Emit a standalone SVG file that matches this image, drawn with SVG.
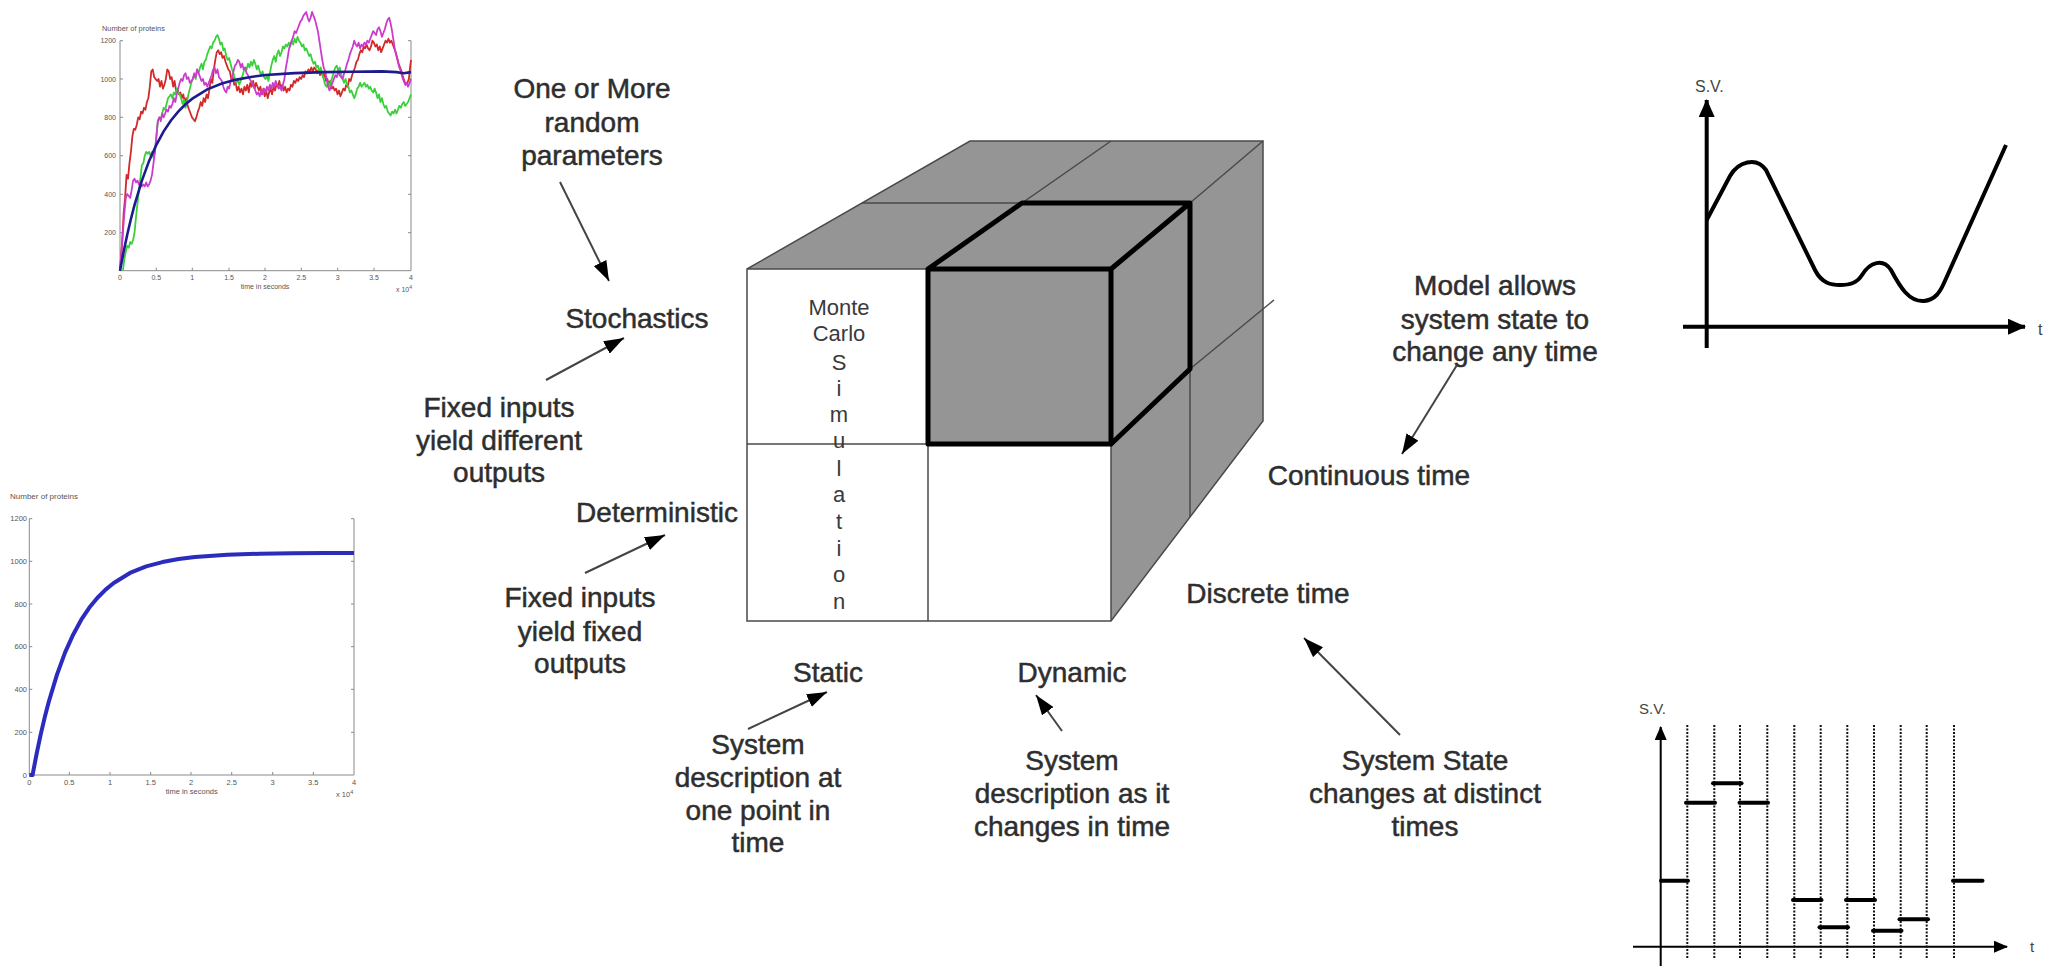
<svg xmlns="http://www.w3.org/2000/svg" width="2062" height="967" viewBox="0 0 2062 967">
  <defs>
    <style>
      .lbl { font-family: "Liberation Sans", Arial, sans-serif; font-size: 28px; fill: #2e2e2e; stroke: #2e2e2e; stroke-width: 0.5px; text-anchor: middle; }
      .mc { font-family: "Liberation Sans", Arial, sans-serif; font-size: 22px; fill: #3a3a3a; text-anchor: middle; }
      .ax { stroke: #8a8a8a; stroke-width: 1; fill: none; }
      .tk { font-family: "Liberation Sans", Arial, sans-serif; fill: #555; }
      .conn { stroke: #444; stroke-width: 2; fill: none; marker-end: url(#ah); }
      .thin { stroke: #4a4a4a; stroke-width: 1.5; fill: none; }
      .thick { stroke: #000; stroke-width: 5; fill: none; stroke-linejoin: round; stroke-linecap: round; }
      .sv { font-family: "Liberation Sans", Arial, sans-serif; fill: #444; }
      .noisy { fill: none; stroke-width: 1.8; stroke-linejoin: round; }
      .dots { stroke: #111; stroke-width: 2; stroke-dasharray: 2 1.5; }
      .step { stroke: #000; stroke-width: 4; stroke-linecap: round; }
    </style>
    <marker id="ah" markerWidth="20" markerHeight="14" refX="20" refY="7" orient="auto" markerUnits="userSpaceOnUse">
      <path d="M0,0 L20,7 L0,14 Z" fill="#000"/>
    </marker>
    <marker id="ahBig" markerWidth="18" markerHeight="16" refX="17" refY="8" orient="auto" markerUnits="userSpaceOnUse">
      <path d="M0,0 L18,8 L0,16 Z" fill="#000"/>
    </marker>
    <marker id="ahSmall" markerWidth="14" markerHeight="12" refX="13" refY="6" orient="auto" markerUnits="userSpaceOnUse">
      <path d="M0,0 L14,6 L0,12 Z" fill="#000"/>
    </marker>
  </defs>

  <rect width="2062" height="967" fill="#fff"/>

  <!-- Stochastic simulation runs -->
  <g id="plot-stochastic">
    <text class="tk" x="102" y="31" font-size="7.4">Number of proteins</text>
    <path class="ax" d="M120,40.7 V270.7 H411 V40.7"/>
    <path class="ax" d="M120,40.7 h3 M120,79 h3 M120,117.3 h3 M120,155.7 h3 M120,194.3 h3 M120,232.7 h3
                        M411,40.7 h-3 M411,79 h-3 M411,117.3 h-3 M411,155.7 h-3 M411,194.3 h-3 M411,232.7 h-3
                        M156.3,270.7 v-3 M192.3,270.7 v-3 M229,270.7 v-3 M265,270.7 v-3 M301.3,270.7 v-3 M337.7,270.7 v-3 M374,270.7 v-3"/>
    <g class="tk" font-size="7" text-anchor="end">
      <text x="116" y="43">1200</text>
      <text x="116" y="81.5">1000</text>
      <text x="116" y="119.8">800</text>
      <text x="116" y="158.2">600</text>
      <text x="116" y="196.8">400</text>
      <text x="116" y="235.2">200</text>
    </g>
    <g class="tk" font-size="7" text-anchor="middle">
      <text x="120" y="279.5">0</text>
      <text x="156.3" y="279.5">0.5</text>
      <text x="192.3" y="279.5">1</text>
      <text x="229" y="279.5">1.5</text>
      <text x="265" y="279.5">2</text>
      <text x="301.3" y="279.5">2.5</text>
      <text x="337.7" y="279.5">3</text>
      <text x="374" y="279.5">3.5</text>
      <text x="411" y="279.5">4</text>
      <text x="265" y="288.5">time in seconds</text>
    </g>
    <text class="tk" x="396" y="292" font-size="7">x 10<tspan dy="-3" font-size="5">4</tspan></text>

    <g transform="translate(120,270.7) scale(0.7275,-0.19167)">
      <polyline class="noisy" vector-effect="non-scaling-stroke" stroke="#d22a2a" points="0,0 3,150 5,300 7,380 9,500 11,480 13,560 15,620 17,700 19,740 21,735 23,760 25,800 27,790 29,830 31,820 33,850 35,840 37,880 39,900 41,960 43,1040 45,1050 47,1010 49,1000 51,990 53,1000 55,960 57,990 59,950 61,970 63,1000 65,1050 67,1040 69,1000 71,1010 73,960 75,990 77,940 79,950 81,920 83,930 85,900 87,920 89,880 91,900 93,860 95,840 97,820 99,800 101,790 103,780 105,800 107,830 109,850 111,880 113,860 115,900 117,880 119,920 121,900 123,950 125,1000 127,980 129,1050 131,1100 133,1140 135,1150 137,1130 139,1140 141,1110 143,1120 145,1090 147,1070 149,1050 151,1040 153,1000 155,1010 157,970 159,980 161,940 163,960 165,930 167,950 169,920 171,960 173,940 175,970 177,930 179,980 181,960 183,990 185,950 187,980 189,960 191,940 193,960 195,920 197,950 199,910 201,940 203,900 205,930 207,950 209,920 211,960 213,940 215,970 217,960 219,990 221,950 223,970 225,940 227,960 229,930 231,950 233,940 235,970 237,960 239,990 241,980 243,1000 245,990 247,1010 249,1000 251,1020 253,1010 255,1040 257,1030 259,1050 261,1040 263,1060 265,1040 267,1060 269,1050 271,1030 273,1050 275,1020 277,1040 279,1010 281,1030 283,990 285,1000 287,970 289,990 291,950 293,960 295,940 297,950 299,920 301,940 303,910 305,930 307,950 309,940 311,970 313,960 315,1000 317,990 319,1020 321,1040 323,1060 325,1090 327,1100 329,1130 331,1150 333,1140 335,1170 337,1160 339,1180 341,1160 343,1150 345,1170 347,1200 349,1190 351,1170 353,1180 355,1150 357,1170 359,1140 361,1160 363,1180 365,1200 367,1190 369,1210 371,1190 373,1200 375,1180 377,1160 379,1140 381,1110 383,1080 385,1060 387,1040 389,1010 391,990 393,970 395,980 397,1000 399,1070 400,1100"/>
      <polyline class="noisy" vector-effect="non-scaling-stroke" stroke="#3ccf3c" points="4,0 6,60 8,100 10,130 12,120 14,150 16,140 18,160 20,200 22,280 24,350 26,420 28,480 30,550 32,560 34,600 36,620 38,610 40,620 42,600 44,620 46,590 48,620 50,700 52,780 54,800 56,790 58,820 60,850 62,840 64,870 66,900 68,910 70,920 72,900 74,930 76,920 78,950 80,930 82,920 84,900 86,870 88,890 90,850 92,880 94,920 96,950 98,980 100,1000 102,1020 104,1000 106,1050 108,1030 110,1060 112,1080 114,1050 116,1090 118,1100 120,1130 122,1150 124,1170 126,1160 128,1190 130,1200 132,1220 134,1230 136,1210 138,1180 140,1190 142,1150 144,1160 146,1120 148,1100 150,1110 152,1080 154,1050 156,1030 158,1000 160,980 162,1000 164,970 166,990 168,1010 170,1040 172,1060 174,1050 176,1080 178,1060 180,1090 182,1070 184,1100 186,1080 188,1050 190,1070 192,1040 194,1020 196,1040 198,1010 200,1000 202,1020 204,990 206,1030 208,1070 210,1100 212,1120 214,1090 216,1130 218,1150 220,1120 222,1140 224,1170 226,1160 228,1180 230,1170 232,1190 234,1170 236,1200 238,1180 240,1210 242,1190 244,1220 246,1200 248,1190 250,1170 252,1180 254,1150 256,1160 258,1140 260,1120 262,1130 264,1100 266,1080 268,1090 270,1060 272,1070 274,1040 276,1060 278,1030 280,1000 282,970 284,960 286,980 288,960 290,990 292,1010 294,1040 296,1060 298,1070 300,1040 302,1060 304,1020 306,1000 308,980 310,1000 312,970 314,960 316,930 318,940 320,920 322,900 324,920 326,950 328,960 330,980 332,960 334,970 336,980 338,960 340,970 342,950 344,960 346,940 348,930 350,950 352,930 354,900 356,920 358,880 360,900 362,870 364,850 366,860 368,830 370,820 372,810 374,830 376,820 378,840 380,820 382,840 384,860 386,850 388,870 390,880 392,860 394,870 396,880 398,900 400,920"/>
      <polyline class="noisy" vector-effect="non-scaling-stroke" stroke="#cc3ccc" points="0,0 2,100 4,200 6,300 8,380 10,400 12,390 14,380 16,420 18,470 20,480 22,460 24,470 26,450 28,460 30,440 32,450 34,440 36,460 38,440 40,450 42,470 44,500 46,560 48,620 50,700 52,780 54,800 56,780 58,820 60,800 62,820 64,840 66,830 68,860 70,850 72,870 74,900 76,880 78,920 80,950 82,980 84,1000 86,990 88,1020 90,1030 92,1000 94,1010 96,980 98,990 100,1000 102,1030 104,1010 106,1050 108,1030 110,1010 112,990 114,1000 116,970 118,980 120,960 122,980 124,1000 126,1020 128,1050 130,1060 132,1030 134,1050 136,1010 138,1000 140,990 142,960 144,940 146,930 148,960 150,950 152,990 154,1010 156,1040 158,1070 160,1080 162,1100 164,1090 166,1060 168,1080 170,1050 172,1060 174,1030 176,1020 178,1000 180,990 182,980 184,960 186,940 188,920 190,930 192,910 194,940 196,920 198,950 200,930 202,960 204,940 206,970 208,950 210,980 212,960 214,990 216,970 218,950 220,960 222,940 224,970 226,1000 228,1060 230,1100 232,1150 234,1180 236,1200 238,1220 240,1250 242,1240 244,1260 246,1280 248,1300 250,1310 252,1330 254,1340 256,1350 258,1320 260,1300 262,1320 264,1350 266,1330 268,1310 270,1280 272,1250 274,1200 276,1150 278,1100 280,1060 282,1040 284,1000 286,960 288,940 290,960 292,980 294,1000 296,1020 298,1010 300,1040 302,1020 304,1010 306,1000 308,1030 310,1050 312,1080 314,1100 316,1130 318,1150 320,1170 322,1200 324,1180 326,1170 328,1190 330,1160 332,1180 334,1170 336,1190 338,1180 340,1200 342,1190 344,1210 346,1230 348,1250 350,1240 352,1230 354,1260 356,1270 358,1250 360,1220 362,1240 364,1260 366,1290 368,1310 370,1320 372,1290 374,1250 376,1200 378,1150 380,1120 382,1090 384,1060 386,1040 388,1010 390,990 392,970 394,980 396,960 398,980 400,1000"/>
      <polyline fill="none" vector-effect="non-scaling-stroke" stroke="#1c1c8e" stroke-width="2.6" points="0,0 5,99 10,189 15,270 20,343 30,469 40,573 50,657 60,727 70,784 80,830 90,868 100,899 120,946 140,977 160,997 180,1011 200,1021 240,1031 280,1036 320,1038 360,1040 380,1036 390,1030 400,1036"/>
    </g>
  </g>

  <!-- Deterministic simulation run -->
  <g id="plot-deterministic">
    <text class="tk" x="10" y="499" font-size="8">Number of proteins</text>
    <path class="ax" d="M29.3,518.7 V775 H354 V518.7"/>
    <path class="ax" d="M29.3,518.7 h3 M29.3,561.3 h3 M29.3,604 h3 M29.3,646.7 h3 M29.3,689.3 h3 M29.3,732.3 h3
                        M354,518.7 h-3 M354,561.3 h-3 M354,604 h-3 M354,646.7 h-3 M354,689.3 h-3 M354,732.3 h-3
                        M69.3,775 v-3 M110,775 v-3 M150.7,775 v-3 M191,775 v-3 M231.7,775 v-3 M272.7,775 v-3 M313.3,775 v-3"/>
    <g class="tk" font-size="7.5" text-anchor="end">
      <text x="27" y="521.3">1200</text>
      <text x="27" y="564">1000</text>
      <text x="27" y="606.7">800</text>
      <text x="27" y="649.4">600</text>
      <text x="27" y="692">400</text>
      <text x="27" y="735">200</text>
      <text x="27" y="777.7">0</text>
    </g>
    <g class="tk" font-size="7.5" text-anchor="middle">
      <text x="29.3" y="785">0</text>
      <text x="69.3" y="785">0.5</text>
      <text x="110" y="785">1</text>
      <text x="150.7" y="785">1.5</text>
      <text x="191" y="785">2</text>
      <text x="231.7" y="785">2.5</text>
      <text x="272.7" y="785">3</text>
      <text x="313.3" y="785">3.5</text>
      <text x="354" y="785">4</text>
      <text x="191.7" y="794">time in seconds</text>
    </g>
    <text class="tk" x="336" y="797" font-size="7.5">x 10<tspan dy="-3" font-size="5.5">4</tspan></text>
    <g transform="translate(29.3,775) scale(0.81175,-0.21358)">
      <polyline fill="none" vector-effect="non-scaling-stroke" stroke="#2b2bbd" stroke-width="4" stroke-linejoin="round" points="0,0 4,0 9,99 14,189 19,270 24,343 34,469 44,573 54,657 64,727 74,784 84,830 94,868 104,899 124,946 144,977 164,997 184,1011 204,1021 244,1031 284,1036 324,1038 364,1039 400,1040"/>
    </g>
  </g>

  <!-- Classification cube -->
  <g id="cube">
    <polygon points="747,269 970,141 1263,141 1263,421 1111,621 747,621" fill="#959595"/>
    <rect x="747" y="269" width="181" height="175" fill="#fff"/>
    <rect x="747" y="444" width="181" height="177" fill="#fff"/>
    <rect x="928" y="444" width="183" height="177" fill="#fff"/>
    <polygon class="thin" points="747,269 970,141 1263,141 1263,421 1111,621 747,621"/>
    <path class="thin" d="M747,269 H1111 M928,269 V621 M747,444 H1111 M1111,444 V621
                          M862,203 H1022 L1111,141 M1190,203 L1263,141 M1190,369 L1274,300 M1190,369 V517"/>
    <path class="thick" d="M928,269 H1111 V444 H928 Z M928,269 L1022,203 H1190 L1111,269 M1190,203 V369 L1111,444"/>
    <g class="mc">
      <text x="839" y="314.5">Monte</text>
      <text x="839" y="341">Carlo</text>
      <text x="839" y="369.5">S</text>
      <text x="839" y="396">i</text>
      <text x="839" y="422">m</text>
      <text x="839" y="448">u</text>
      <text x="839" y="475.5">l</text>
      <text x="839" y="502">a</text>
      <text x="839" y="528.5">t</text>
      <text x="839" y="556">i</text>
      <text x="839" y="582">o</text>
      <text x="839" y="609">n</text>
    </g>
  </g>

  <!-- Labels around the cube -->
  <g id="lbl-random" class="lbl">
    <text x="592" y="98">One or More</text>
    <text x="592" y="131.5">random</text>
    <text x="592" y="165">parameters</text>
  </g>
  <g id="lbl-stochastics" class="lbl"><text x="637" y="328">Stochastics</text></g>
  <g id="lbl-fixed-diff" class="lbl">
    <text x="499" y="416.5">Fixed inputs</text>
    <text x="499" y="449.5">yield different</text>
    <text x="499" y="481.5">outputs</text>
  </g>
  <g id="lbl-deterministic" class="lbl"><text x="657" y="522">Deterministic</text></g>
  <g id="lbl-fixed-fixed" class="lbl">
    <text x="580" y="607">Fixed inputs</text>
    <text x="580" y="640.5">yield fixed</text>
    <text x="580" y="673">outputs</text>
  </g>
  <g id="lbl-static" class="lbl"><text x="828" y="682">Static</text></g>
  <g id="lbl-static-desc" class="lbl">
    <text x="758" y="754">System</text>
    <text x="758" y="787">description at</text>
    <text x="758" y="820">one point in</text>
    <text x="758" y="852">time</text>
  </g>
  <g id="lbl-dynamic" class="lbl"><text x="1072" y="682">Dynamic</text></g>
  <g id="lbl-dynamic-desc" class="lbl">
    <text x="1072" y="770">System</text>
    <text x="1072" y="803">description as it</text>
    <text x="1072" y="836">changes in time</text>
  </g>
  <g id="lbl-discrete" class="lbl"><text x="1268" y="603">Discrete time</text></g>
  <g id="lbl-discrete-desc" class="lbl">
    <text x="1425" y="770">System State</text>
    <text x="1425" y="803">changes at distinct</text>
    <text x="1425" y="836">times</text>
  </g>
  <g id="lbl-continuous" class="lbl"><text x="1369" y="485">Continuous time</text></g>
  <g id="lbl-continuous-desc" class="lbl">
    <text x="1495" y="295">Model allows</text>
    <text x="1495" y="328.5">system state to</text>
    <text x="1495" y="361">change any time</text>
  </g>

  <!-- Connectors -->
  <g id="connectors">
    <line class="conn" x1="560" y1="182" x2="609" y2="281"/>
    <line class="conn" x1="546" y1="380" x2="624" y2="338"/>
    <line class="conn" x1="585" y1="573" x2="665" y2="535"/>
    <line class="conn" x1="748" y1="729" x2="827" y2="692"/>
    <line class="conn" x1="1062" y1="731" x2="1036" y2="695"/>
    <line class="conn" x1="1400" y1="735" x2="1304" y2="638"/>
    <line class="conn" x1="1457" y1="365" x2="1402" y2="454"/>
  </g>

  <!-- Continuous state variable -->
  <g id="plot-continuous">
    <text class="sv" x="1695" y="92" font-size="16">S.V.</text>
    <line x1="1706.7" y1="348" x2="1706.7" y2="100" stroke="#000" stroke-width="4" marker-end="url(#ahBig)"/>
    <line x1="1683" y1="326.7" x2="2025" y2="326.7" stroke="#000" stroke-width="4" marker-end="url(#ahBig)"/>
    <text class="sv" x="2038" y="335" font-size="16" fill="#222">t</text>
    <path d="M1706.7,220 L1730,176 C1738,162 1756,156 1766,170 L1815,270 C1822,284 1832,285 1840,285 C1850,285 1857,283 1862,275 C1870,262 1883,258 1891,270 C1900,287 1909,302 1924,301 C1935,300 1940,292 1944,283 L2006,145" fill="none" stroke="#000" stroke-width="4" stroke-linejoin="round"/>
  </g>

  <!-- Discrete state variable -->
  <g id="plot-discrete">
    <text class="sv" x="1639" y="714" font-size="15">S.V.</text>
    <line x1="1660.7" y1="966" x2="1660.7" y2="727" stroke="#000" stroke-width="2" marker-end="url(#ahSmall)"/>
    <line x1="1633" y1="946.7" x2="2007" y2="946.7" stroke="#000" stroke-width="2" marker-end="url(#ahSmall)"/>
    <text class="sv" x="2030" y="952" font-size="15" fill="#222">t</text>
    <g class="dots">
      <line x1="1687.3" y1="725" x2="1687.3" y2="958"/>
      <line x1="1714.3" y1="725" x2="1714.3" y2="958"/>
      <line x1="1740" y1="725" x2="1740" y2="958"/>
      <line x1="1767.3" y1="725" x2="1767.3" y2="958"/>
      <line x1="1794.3" y1="725" x2="1794.3" y2="958"/>
      <line x1="1820.7" y1="725" x2="1820.7" y2="958"/>
      <line x1="1847.3" y1="725" x2="1847.3" y2="958"/>
      <line x1="1874" y1="725" x2="1874" y2="958"/>
      <line x1="1900.7" y1="725" x2="1900.7" y2="958"/>
      <line x1="1926.7" y1="725" x2="1926.7" y2="958"/>
      <line x1="1954" y1="725" x2="1954" y2="958"/>
    </g>
    <g class="step">
      <line x1="1661" y1="880.7" x2="1688" y2="880.7"/>
      <line x1="1686" y1="802.7" x2="1715" y2="802.7"/>
      <line x1="1713" y1="783.3" x2="1741.5" y2="783.3"/>
      <line x1="1739.5" y1="802.7" x2="1768" y2="802.7"/>
      <line x1="1793" y1="900" x2="1821.5" y2="900"/>
      <line x1="1819.5" y1="927.3" x2="1848" y2="927.3"/>
      <line x1="1846" y1="900" x2="1875" y2="900"/>
      <line x1="1873" y1="930.7" x2="1901.5" y2="930.7"/>
      <line x1="1899.5" y1="919.3" x2="1928" y2="919.3"/>
      <line x1="1953" y1="880.7" x2="1982.5" y2="880.7"/>
    </g>
  </g>
</svg>
